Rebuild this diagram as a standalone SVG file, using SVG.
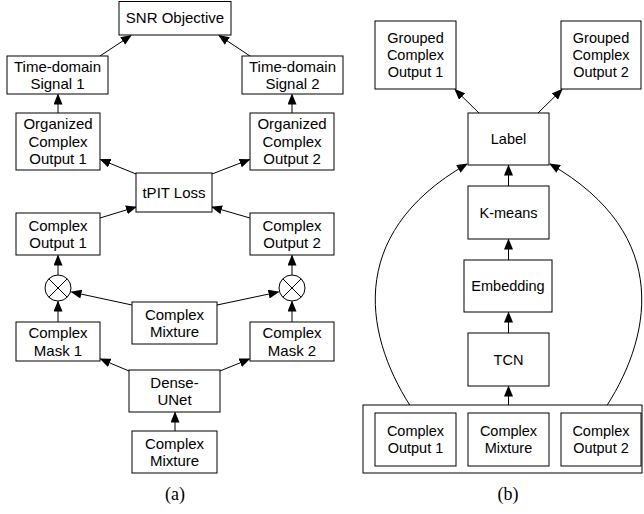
<svg xmlns="http://www.w3.org/2000/svg" width="644" height="514" viewBox="0 0 644 514">
<style>
.box{fill:#fff;stroke:#000;stroke-width:1}
.t{font-family:"Liberation Sans",Arial,sans-serif;font-size:15px;fill:#000;text-anchor:middle}
.r{font-family:"Liberation Sans",Arial,sans-serif;font-size:14.5px;fill:#000;text-anchor:middle}
.cap{font-family:"Liberation Serif","Times New Roman",serif;font-size:18px;fill:#000;text-anchor:middle}
.c{fill:none;stroke:#000;stroke-width:1}
.a{fill:none;stroke:#000;stroke-width:1;marker-end:url(#ah)}
</style>
<defs>
<marker id="ah" markerUnits="userSpaceOnUse" markerWidth="11" markerHeight="9" refX="10" refY="4.5" orient="auto">
<path d="M0,0 L11,4.5 L0,9 Z" fill="#000"/>
</marker>
</defs>
<rect width="644" height="514" fill="#fff"/>

<g id="connectors">
<line class="a" x1="100" y1="56" x2="131" y2="35.5"/>
<line class="a" x1="250" y1="56" x2="219" y2="35.5"/>
<line class="a" x1="58" y1="113" x2="58" y2="94.5"/>
<line class="a" x1="292" y1="113" x2="292" y2="94.5"/>
<line class="a" x1="136" y1="174" x2="100.5" y2="159.5"/>
<line class="a" x1="212" y1="174" x2="249.5" y2="159.5"/>
<line class="a" x1="100" y1="218" x2="136" y2="207"/>
<line class="a" x1="250" y1="218" x2="212" y2="207"/>
<line class="a" x1="58" y1="275" x2="58" y2="255.5"/>
<line class="a" x1="292" y1="275" x2="292" y2="255.5"/>
<line class="a" x1="58" y1="322" x2="58" y2="301.5"/>
<line class="a" x1="292" y1="322" x2="292" y2="301.5"/>
<line class="a" x1="132" y1="305" x2="71.5" y2="292"/>
<line class="a" x1="217" y1="305" x2="278.5" y2="292"/>
<line class="a" x1="129" y1="371" x2="100.5" y2="359"/>
<line class="a" x1="220" y1="371" x2="249.5" y2="359"/>
<line class="a" x1="175" y1="431" x2="175" y2="412.5"/>

<line class="a" x1="479" y1="113" x2="455" y2="89.5"/>
<line class="a" x1="538" y1="113" x2="562" y2="89.5"/>
<line class="a" x1="508.5" y1="186" x2="508.5" y2="165.5"/>
<line class="a" x1="508.5" y1="260" x2="508.5" y2="239.5"/>
<line class="a" x1="508.5" y1="333" x2="508.5" y2="312.5"/>
<line class="a" x1="508.5" y1="405" x2="508.5" y2="386.5"/>
<path class="a" d="M415,413 C365,340 343,235 467,164"/>
<path class="a" d="M602,413 C652,340 674,235 550,164"/>
</g>

<g id="snr"><rect class="box" x="119" y="1.5" width="112" height="33.5"/><text class="t" x="175" y="23.3">SNR Objective</text></g>
<g id="sig1"><rect class="box" x="7" y="56" width="101" height="38"/><text class="t" x="57.5" y="71.5">Time-domain</text><text class="t" x="57.5" y="89">Signal 1</text></g>
<g id="sig2"><rect class="box" x="242" y="56" width="101" height="38"/><text class="t" x="292.5" y="71.5">Time-domain</text><text class="t" x="292.5" y="89">Signal 2</text></g>
<g id="org1"><rect class="box" x="16" y="113" width="84" height="57"/><text class="t" x="58" y="129.3">Organized</text><text class="t" x="58" y="146.8">Complex</text><text class="t" x="58" y="164.3">Output 1</text></g>
<g id="org2"><rect class="box" x="250" y="113" width="84" height="57"/><text class="t" x="292" y="129.3">Organized</text><text class="t" x="292" y="146.8">Complex</text><text class="t" x="292" y="164.3">Output 2</text></g>
<g id="tpit"><rect class="box" x="136" y="173" width="76" height="39"/><text class="t" x="174" y="197.8">tPIT Loss</text></g>
<g id="out1"><rect class="box" x="16" y="213" width="84" height="42"/><text class="t" x="58" y="230.5">Complex</text><text class="t" x="58" y="248">Output 1</text></g>
<g id="out2"><rect class="box" x="250" y="213" width="84" height="42"/><text class="t" x="292" y="230.5">Complex</text><text class="t" x="292" y="248">Output 2</text></g>
<g id="mul1"><circle class="c" cx="58" cy="288" r="13"/><path class="c" d="M48.8,278.8 L67.2,297.2 M67.2,278.8 L48.8,297.2"/></g>
<g id="mul2"><circle class="c" cx="292" cy="288" r="13"/><path class="c" d="M282.8,278.8 L301.2,297.2 M301.2,278.8 L282.8,297.2"/></g>
<g id="mix1"><rect class="box" x="132" y="302" width="85" height="42"/><text class="t" x="174.5" y="319.6">Complex</text><text class="t" x="174.5" y="337.1">Mixture</text></g>
<g id="mask1"><rect class="box" x="16" y="322" width="84" height="39"/><text class="t" x="58" y="338">Complex</text><text class="t" x="58" y="355.5">Mask 1</text></g>
<g id="mask2"><rect class="box" x="250" y="322" width="84" height="39"/><text class="t" x="292" y="338">Complex</text><text class="t" x="292" y="355.5">Mask 2</text></g>
<g id="unet"><rect class="box" x="129" y="370" width="91" height="42"/><text class="t" x="174.5" y="387.5">Dense-</text><text class="t" x="174.5" y="405">UNet</text></g>
<g id="mix2"><rect class="box" x="132" y="431" width="85" height="42"/><text class="t" x="174.5" y="448.5">Complex</text><text class="t" x="174.5" y="466">Mixture</text></g>
<text class="cap" x="175" y="500">(a)</text>

<g id="grp1"><rect class="box" x="375" y="21" width="81" height="68"/><text class="r" x="415.5" y="43.1">Grouped</text><text class="r" x="415.5" y="60.1">Complex</text><text class="r" x="415.5" y="77.1">Output 1</text></g>
<g id="grp2"><rect class="box" x="561" y="21" width="80" height="68"/><text class="r" x="601" y="43.1">Grouped</text><text class="r" x="601" y="60.1">Complex</text><text class="r" x="601" y="77.1">Output 2</text></g>
<g id="label"><rect class="box" x="468" y="113" width="81" height="52"/><text class="r" x="508.5" y="144.1">Label</text></g>
<g id="kmeans"><rect class="box" x="468" y="186" width="81" height="53"/><text class="r" x="508.5" y="217.6">K-means</text></g>
<g id="embed"><rect class="box" x="464" y="260" width="88" height="52"/><text class="r" x="508" y="291.1">Embedding</text></g>
<g id="tcn"><rect class="box" x="468" y="333" width="81" height="53"/><text class="r" x="508.5" y="364.6">TCN</text></g>
<g id="inputs"><rect class="box" x="363" y="405" width="279" height="68"/>
<g id="in1"><rect class="box" x="375" y="413" width="81" height="53"/><text class="r" x="415.5" y="436.1">Complex</text><text class="r" x="415.5" y="453.1">Output 1</text></g>
<g id="inmix"><rect class="box" x="468" y="413" width="81" height="53"/><text class="r" x="508.5" y="436.1">Complex</text><text class="r" x="508.5" y="453.1">Mixture</text></g>
<g id="in2"><rect class="box" x="561" y="413" width="80" height="53"/><text class="r" x="601" y="436.1">Complex</text><text class="r" x="601" y="453.1">Output 2</text></g>
</g>
<text class="cap" x="508" y="500">(b)</text>
</svg>
